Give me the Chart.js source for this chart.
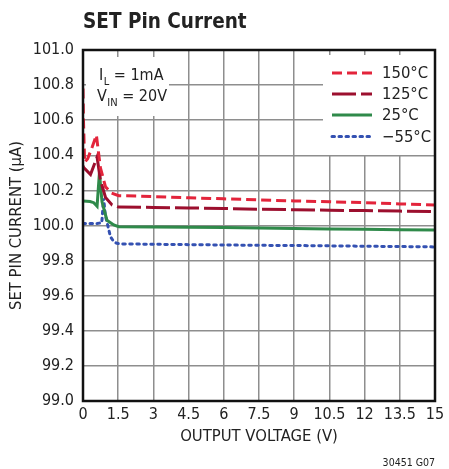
<!DOCTYPE html>
<html>
<head>
<meta charset="utf-8">
<script src="https://cdn.jsdelivr.net/npm/chart.js@4/dist/chart.umd.min.js"></script>
<style>
html,body{margin:0;padding:0;background:#fff;}
#wrap{width:449px;height:469px;position:relative;}
</style>
</head>
<body>
<div id="wrap"><canvas id="c" width="449" height="469"></canvas></div>
<script>
// ---- data ----
const xTicks = [0, 1.5, 3, 4.5, 6, 7.5, 9, 10.5, 12, 13.5, 15];
const xTickLabels = ["0", "1.5", "3", "4.5", "6", "7.5", "9", "10.5", "12", "13.5", "15"];
const yTicks = [99.0, 99.2, 99.4, 99.6, 99.8, 100.0, 100.2, 100.4, 100.6, 100.8, 101.0];
const yTickLabels = ["99.0", "99.2", "99.4", "99.6", "99.8", "100.0", "100.2", "100.4", "100.6", "100.8", "101.0"];

const seriesNames = ["150°C", "125°C", "25°C", "\u221255°C"];

const v150 = [0, 0.02, 0.07, 0.2, 0.4, 0.57, 0.74, 0.96, 1.22, 1.52, 3, 4.5, 6, 7.5, 9, 10.5, 12, 13.5, 15];
const i150 = [100.78, 100.6, 100.36, 100.38, 100.45, 100.515, 100.33, 100.22, 100.185, 100.17, 100.165, 100.158, 100.152, 100.146, 100.14, 100.135, 100.13, 100.123, 100.117];

const v125 = [0, 0.03, 0.32, 0.6, 0.74, 0.96, 1.24, 1.52, 3, 4.5, 6, 7.5, 9, 10.5, 12, 13.5, 15];
const i125 = [100.34, 100.33, 100.29, 100.39, 100.26, 100.16, 100.117, 100.105, 100.103, 100.1, 100.097, 100.093, 100.09, 100.087, 100.085, 100.082, 100.08];

const v25 = [0, 0.3, 0.46, 0.6, 0.7, 0.81, 1.02, 1.31, 1.52, 3, 4.5, 6, 7.5, 9, 10.5, 12, 13.5, 15];
const i25 = [100.14, 100.137, 100.13, 100.11, 100.30, 100.135, 100.03, 100.003, 99.993, 99.992, 99.99, 99.988, 99.986, 99.983, 99.98, 99.978, 99.976, 99.975];

const vM55 = [0, 0.3, 0.6, 0.8, 0.88, 0.95, 1.1, 1.17, 1.31, 1.45, 1.7, 3, 4.5, 6, 7.5, 9, 10.5, 12, 13.5, 15];
const iM55 = [100.012, 100.012, 100.012, 100.015, 100.155, 100.06, 99.975, 99.936, 99.908, 99.898, 99.895, 99.893, 99.891, 99.889, 99.887, 99.886, 99.884, 99.882, 99.88, 99.878];

// ---- styling ----
const FONT = '"DejaVu Sans Condensed", "Liberation Sans", sans-serif';
const colors = ["#e3243b", "#9c0f2e", "#2f8a4a", "#3451b2"];
const dashes = [[10, 5], [24, 5], [], [2.5, 4.5]];

function pts(xs, ys) { return xs.map((x, i) => ({ x: x, y: ys[i] })); }
const seriesData = [pts(v150, i150), pts(v125, i125), pts(v25, i25), pts(vM55, iM55)];

const datasets = seriesData.map((d, k) => ({
  label: seriesNames[k],
  data: d,
  borderColor: colors[k],
  borderWidth: 3,
  borderDash: dashes[k],
  borderCapStyle: k === 3 ? 'round' : 'butt',
  pointRadius: 0,
  tension: 0,
  fill: false
}));

const decor = {
  id: 'decor',
  beforeDatasetsDraw(chart) {
    const ctx = chart.ctx;
    ctx.save();
    ctx.fillStyle = '#fff';
    ctx.fillRect(86, 57, 83, 59);   // annotation box
    ctx.fillRect(323, 55, 111, 100); // legend box
    ctx.restore();
  },
  afterDraw(chart) {
    const ctx = chart.ctx;
    const a = chart.chartArea;
    ctx.save();
    // frame
    ctx.strokeStyle = '#111';
    ctx.lineWidth = 2.5;
    ctx.strokeRect(a.left, a.top, a.right - a.left, a.bottom - a.top);
    // title
    ctx.fillStyle = '#222';
    ctx.textBaseline = 'alphabetic';
    ctx.textAlign = 'left';
    ctx.font = 'bold 20.5px ' + FONT;
    ctx.fillText('SET Pin Current', 83, 28);
    // annotation
    ctx.font = '16px ' + FONT;
    let x = 99;
    ctx.fillText('I', x, 80); x += ctx.measureText('I').width + 0.5;
    ctx.font = '11px ' + FONT;
    ctx.fillText('L', x, 85); x += ctx.measureText('L').width;
    ctx.font = '16px ' + FONT;
    ctx.fillText(' = 1mA', x, 80);
    x = 97;
    ctx.fillText('V', x, 101); x += ctx.measureText('V').width + 0.5;
    ctx.font = '11px ' + FONT;
    ctx.fillText('IN', x, 106); x += ctx.measureText('IN').width;
    ctx.font = '16px ' + FONT;
    ctx.fillText(' = 20V', x, 101);
    // legend
    const rows = [73, 94, 115, 136.5];
    for (let k = 0; k < 4; k++) {
      ctx.beginPath();
      ctx.strokeStyle = colors[k];
      ctx.lineWidth = 3;
      ctx.setLineDash(dashes[k]);
      ctx.lineCap = k === 3 ? 'round' : 'butt';
      ctx.moveTo(332, rows[k]);
      ctx.lineTo(372, rows[k]);
      ctx.stroke();
      ctx.setLineDash([]);
      ctx.fillStyle = '#222';
      ctx.font = '16.5px ' + FONT;
      ctx.textBaseline = 'middle';
      ctx.fillText(seriesNames[k], 382, rows[k] + 1);
    }
    // footer
    ctx.font = '10.5px ' + FONT;
    ctx.textAlign = 'right';
    ctx.textBaseline = 'alphabetic';
    ctx.fillText('30451 G07', 435, 466);
    ctx.restore();
  }
};

new Chart(document.getElementById('c'), {
  type: 'line',
  data: { datasets: datasets },
  plugins: [decor],
  options: {
    responsive: false,
    animation: false,
    devicePixelRatio: 1,
    layout: { padding: { top: 50, right: 14, left: 0, bottom: 0 } },
    plugins: { legend: { display: false }, tooltip: { enabled: false }, title: { display: false } },
    scales: {
      x: {
        type: 'linear',
        min: 0, max: 15,
        afterFit(s) { s.height = 68; },
        afterBuildTicks(s) { s.ticks = xTicks.map(v => ({ value: v })); },
        ticks: {
          autoSkip: false, maxRotation: 0, padding: 4,
          color: '#222',
          font: { family: FONT, size: 16 },
          callback: (v, i) => xTickLabels[i]
        },
        grid: { color: '#8e8e8e', lineWidth: 1.5, drawTicks: false },
        border: { display: false },
        title: {
          display: true, text: 'OUTPUT VOLTAGE (V)', color: '#222',
          font: { family: FONT, size: 16.5 }, padding: { top: 0, bottom: 22 }
        }
      },
      y: {
        type: 'linear',
        min: 99, max: 101,
        afterFit(s) { s.width = 83; },
        afterBuildTicks(s) { s.ticks = yTicks.map(v => ({ value: v })); },
        ticks: {
          autoSkip: false, padding: 9,
          color: '#222',
          font: { family: FONT, size: 16 },
          callback: (v, i) => yTickLabels[i]
        },
        grid: { color: '#8e8e8e', lineWidth: 1.5, drawTicks: false },
        border: { display: false },
        title: {
          display: true, text: 'SET PIN CURRENT (\u00b5A)', color: '#222',
          font: { family: FONT, size: 16.5 }, padding: { top: 7, bottom: 0 }
        }
      }
    }
  }
});
</script>
</body>
</html>
